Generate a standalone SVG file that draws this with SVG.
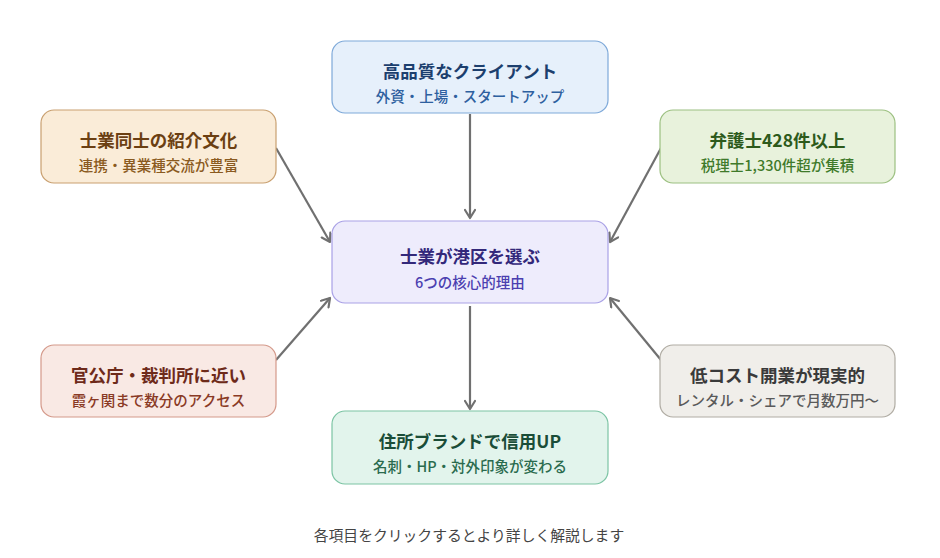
<svg xmlns="http://www.w3.org/2000/svg" width="940" height="558" viewBox="0 0 940 558">
<defs>
<style>
text{font-family:"Noto Sans CJK JP","Noto Sans",sans-serif;text-anchor:middle;dominant-baseline:central}
.t{font-size:17.5px;font-weight:700}
.s{font-size:14.5px;font-weight:500}
.box{stroke-width:1.2}
.conn line{stroke:#707070;stroke-width:2.2;fill:none}
</style>
<marker id="ah" viewBox="0 0 12 12" refX="10" refY="6" markerWidth="12" markerHeight="12" markerUnits="userSpaceOnUse" orient="auto">
<polyline points="2,1 10,6 2,11" fill="none" stroke="#707070" stroke-width="2.2" stroke-linecap="round" stroke-linejoin="round"/>
</marker>
</defs>
<rect width="940" height="558" fill="#ffffff"/>
<g id="connectors" class="conn">
<line x1="470" y1="114" x2="470" y2="218" marker-end="url(#ah)"/>
<line x1="276" y1="148" x2="330" y2="242" marker-end="url(#ah)"/>
<line x1="661" y1="148" x2="610" y2="242" marker-end="url(#ah)"/>
<line x1="276" y1="360" x2="330" y2="298" marker-end="url(#ah)"/>
<line x1="661" y1="360" x2="610" y2="298" marker-end="url(#ah)"/>
<line x1="470" y1="306" x2="470" y2="409" marker-end="url(#ah)"/>
</g>
<g id="center">
<rect class="box" x="332" y="221" width="276" height="82" rx="13" fill="#eeecfc" stroke="#a9a1e6"/>
<text class="t" x="470" y="255" fill="#33287a">士業が港区を選ぶ</text>
<text class="s" x="470" y="281.5" fill="#4b3fb0">6つの核心的理由</text>
</g>
<g id="top">
<rect class="box" x="332" y="41" width="276" height="72" rx="13" fill="#e6f0fb" stroke="#7ea9d9"/>
<text class="t" x="470" y="70" fill="#1c3f6e">高品質なクライアント</text>
<text class="s" x="470" y="95" fill="#2e609f">外資・上場・スタートアップ</text>
</g>
<g id="left-top">
<rect class="box" x="41" y="110" width="235" height="73" rx="13" fill="#faecd8" stroke="#c9a070"/>
<text class="t" x="158.5" y="139" fill="#6b3f12">士業同士の紹介文化</text>
<text class="s" x="158.5" y="164" fill="#8a5a20">連携・異業種交流が豊富</text>
</g>
<g id="right-top">
<rect class="box" x="660" y="110" width="235" height="73" rx="13" fill="#e8f2dc" stroke="#9cc081"/>
<text class="t" x="777.5" y="139" fill="#2d5a1b">弁護士428件以上</text>
<text class="s" x="777.5" y="164" fill="#3f7a2a">税理士1,330件超が集積</text>
</g>
<g id="left-bottom">
<rect class="box" x="41" y="345" width="235" height="72" rx="13" fill="#f9e9e4" stroke="#d4998a"/>
<text class="t" x="158.5" y="374" fill="#6e2a1a">官公庁・裁判所に近い</text>
<text class="s" x="158.5" y="399" fill="#8a3a25">霞ヶ関まで数分のアクセス</text>
</g>
<g id="right-bottom">
<rect class="box" x="660" y="345" width="235" height="72" rx="13" fill="#f0eeea" stroke="#b0aca3"/>
<text class="t" x="777.5" y="374" fill="#3a3a3a">低コスト開業が現実的</text>
<text class="s" x="777.5" y="399" fill="#5a5a5a">レンタル・シェアで月数万円〜</text>
</g>
<g id="bottom">
<rect class="box" x="332" y="411" width="276" height="73" rx="13" fill="#e2f4ec" stroke="#7cc4a4"/>
<text class="t" x="470" y="440" fill="#1a4d38">住所ブランドで信用UP</text>
<text class="s" x="470" y="465" fill="#2a6b4e">名刺・HP・対外印象が変わる</text>
</g>
<text x="469" y="534" font-size="14.8" fill="#444444">各項目をクリックするとより詳しく解説します</text>
</svg>
